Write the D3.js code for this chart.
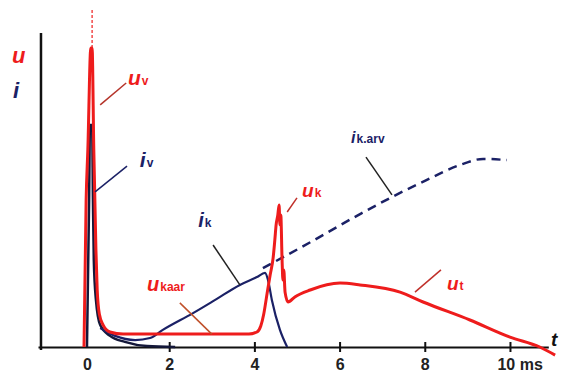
<!DOCTYPE html>
<html lang="en">

<head>
    <meta charset="UTF-8" />
    <title>Switching transient u / i</title>
    <script src="https://cdn.jsdelivr.net/npm/d3@7"></script>
    <style>
        body { margin: 0; background: #fff; }
        text { font-family: "Liberation Sans", Arial, sans-serif; font-weight: bold; }
    </style>
</head>

<body>
    <div id="my_dataviz"></div>

    <script>
        // values: t in ms, v in arbitrary units (same scale for u and i)
        const uT = [0.00, 0.05, 0.09, 0.16, 0.19, 0.23, 0.28, 0.31, 0.36, 0.45, 0.61, 0.92, 1.2, 3.87, 4.06, 4.15, 4.22, 4.30, 4.37, 4.44, 4.48, 4.51, 4.55, 4.58, 4.60, 4.62, 4.65, 4.67, 4.69, 4.72, 4.79, 4.95, 5.31, 6.01, 6.48, 7.42, 7.96, 9.06, 10.0, 10.7, 11.06];
        const uV = [0, 49, 65.7, 99.7, 99.7, 65.7, 32.3, 19, 11, 7.3, 5, 4.3, 4.3, 4.3, 5, 7, 11, 18, 24, 29.7, 35.7, 40.7, 44, 47.3, 40.7, 44, 29, 22.3, 25.7, 18.3, 15, 16.7, 19, 21.3, 20.7, 18.3, 15, 9, 3.3, 0, -2.7];

        const ivT = [0.07, 0.12, 0.14, 0.19, 0.21, 0.23, 0.28, 0.38, 0.61, 0.96, 1.48, 2.14];
        const ivV = [0, 49, 74, 74, 49, 29, 15.7, 7.3, 3.7, 1.7, 0.3, 0];

        const ikT = [0.38, 0.73, 1.2, 1.55, 1.85, 2.56, 3.08, 3.66, 4.06, 4.25, 4.32, 4.41, 4.6, 4.77];
        const ikV = [6.3, 3.7, 2.3, 3, 5.7, 11.3, 15.7, 20.7, 23.3, 24.7, 22.3, 15.7, 5.7, 0];

        // prospective current without interruption (dashed)
        const arvT = [4.2, 5.07, 6.48, 7.23, 8.05, 8.83, 9.37, 9.93];
        const arvV = [26.3, 33, 44.3, 50, 55.7, 60.7, 62.7, 62.3];

        const tickVals = [0, 2, 4, 6, 8, 10];

        const svg = d3.select("#my_dataviz")
            .append("svg")
            .attr("width", 562)
            .attr("height", 376);

        const x = d3.scaleLinear().domain([-1.08, 10.9]).range([38, 548.3]);
        const y = d3.scaleLinear().domain([-3, 105]).range([356, 32]);

        const red = "#ee1c1c", navy = "#1b2166";

        // x axis
        const xAxis = svg.append("g")
            .attr("transform", `translate(0, ${y(0)})`)
            .call(d3.axisBottom(x).tickValues(tickVals).tickSize(5).tickSizeOuter(0)
                .tickFormat(d => d === 10 ? "10 ms" : d));
        xAxis.select(".domain").attr("stroke", "#111").attr("stroke-width", 2);
        xAxis.selectAll(".tick line").attr("stroke", "#111").attr("stroke-width", 2).attr("y1", -5);
        xAxis.selectAll(".tick").filter(d => d === 0).select("line").remove();
        xAxis.selectAll(".tick text")
            .attr("y", 12).attr("dy", "0.71em")
            .attr("fill", "#222").style("font-size", "16px").style("font-weight", "bold")
            .attr("font-family", null);
        xAxis.selectAll(".tick").filter(d => d === 0).select("text").attr("dx", 3);
        xAxis.selectAll(".tick").filter(d => d === 10).select("text")
            .attr("text-anchor", "start").attr("dx", -13);

        // y axis
        svg.append("line")
            .attr("x1", x(-1.01)).attr("x2", x(-1.01))
            .attr("y1", y(104.7)).attr("y2", y(-1))
            .attr("stroke", "#111").attr("stroke-width", 2.5);

        const line = d3.line()
            .x(d => x(d[0]))
            .y(d => y(d[1]))
            .curve(d3.curveMonotoneX);

        const zip = (a, b) => a.map((d, i) => [d, b[i]]);

        // dashed extension above the voltage spike
        svg.append("line")
            .attr("x1", x(0.19)).attr("x2", x(0.19))
            .attr("y1", y(99.7)).attr("y2", y(112.3))
            .attr("stroke", red).attr("stroke-width", 1.2).attr("stroke-dasharray", "3,2");

        svg.append("path").datum(zip(arvT, arvV))
            .attr("d", line).attr("fill", "none")
            .attr("stroke", navy).attr("stroke-width", 2.5).attr("stroke-dasharray", "9,6");

        svg.append("path").datum(zip(ivT, ivV))
            .attr("d", line).attr("fill", "none")
            .attr("stroke", "#14183a").attr("stroke-width", 2.5);

        svg.append("path").datum(zip(ikT, ikV))
            .attr("d", line).attr("fill", "none")
            .attr("stroke", navy).attr("stroke-width", 2.2);

        svg.append("path").datum(zip(uT, uV))
            .attr("d", line).attr("fill", "none")
            .attr("stroke", red).attr("stroke-width", 3);

        // leader lines [t1, v1, t2, v2, colour]
        const leaders = [
            [0.38, 80.7, 0.99, 88, "#b5342a"],
            [0.26, 51.7, 1.01, 60.3, navy],
            [3.03, 34, 3.66, 20.7, "#222"],
            [2.25, 14.7, 3.0, 4.3, "#c0502a"],
            [4.77, 45, 5.0, 49.7, "#c0302a"],
            [6.62, 63.3, 7.23, 50.7, "#222"],
            [7.77, 18.3, 8.38, 25.7, "#c0302a"]
        ];
        svg.append("g").selectAll("line")
            .data(leaders)
            .join("line")
            .attr("x1", d => x(d[0])).attr("y1", d => y(d[1]))
            .attr("x2", d => x(d[2])).attr("y2", d => y(d[3]))
            .attr("stroke", d => d[4]).attr("stroke-width", 1.5);

        // labels: main letter, subscript, t, v, colour, size
        const labels = [
            ["u", "v", 1.03, 87.3, red, 21],
            ["i", "v", 1.31, 60, navy, 21],
            ["i", "k", 2.68, 40, navy, 20],
            ["u", "kaar", 1.48, 18.7, red, 20],
            ["u", "k", 5.12, 50, red, 19],
            ["i", "k.arv", 6.27, 68, navy, 16],
            ["u", "t", 8.52, 19, red, 19]
        ];
        labels.forEach(l => {
            const txt = svg.append("text")
                .attr("x", x(l[2])).attr("y", y(l[3]))
                .attr("fill", l[4]);
            txt.append("tspan").text(l[0])
                .style("font-size", l[5] + "px").style("font-style", "italic");
            txt.append("tspan").text(l[1])
                .attr("dx", 1)
                .style("font-size", "12px");
        });

        // axis letters
        svg.append("text").attr("x", 12).attr("y", 63).attr("fill", red)
            .style("font-size", "22px").style("font-style", "italic").text("u");
        svg.append("text").attr("x", 13).attr("y", 98).attr("fill", navy)
            .style("font-size", "22px").style("font-style", "italic").text("i");
        svg.append("text").attr("x", 551).attr("y", 346).attr("fill", "#111")
            .style("font-size", "19px").style("font-style", "italic").text("t");
    </script>
</body>

</html>
